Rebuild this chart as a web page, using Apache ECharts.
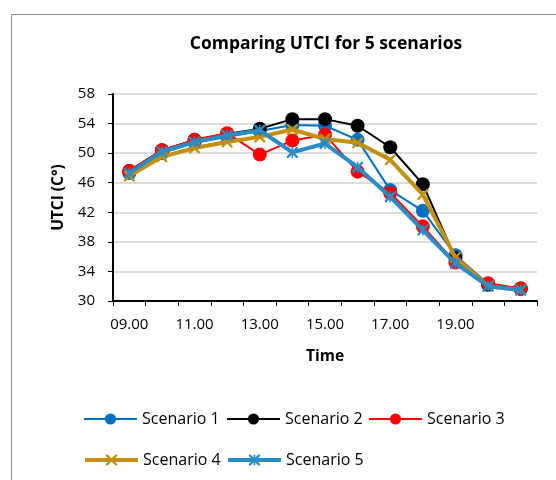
<!DOCTYPE html>
<html>
<head>
<meta charset="utf-8">
<script src="https://cdn.jsdelivr.net/npm/echarts@6/dist/echarts.min.js"></script>
<style>html,body{margin:0;padding:0;background:#fff;}#c{width:556px;height:480px;}</style>
</head>
<body>
<div id="c"></div>
<script>
const categories = ['09.00','10.00','11.00','12.00','13.00','14.00','15.00','16.00','17.00','18.00','19.00','20.00','21.00'];
const seriesNames = ['Scenario 1','Scenario 2','Scenario 3','Scenario 4','Scenario 5'];
const scenario1 = [47.3, 50.0, 51.4, 52.2, 53.0, 53.8, 53.7, 51.8, 45.0, 42.2, 36.2, 32.3, 31.6];
const scenario2 = [47.6, 50.4, 51.8, 52.6, 53.3, 54.6, 54.6, 53.7, 50.8, 45.8, 35.8, 32.2, 31.7];
const scenario3 = [47.6, 50.4, 51.8, 52.7, 49.8, 51.7, 52.5, 47.5, 44.6, 40.1, 35.2, 32.4, 31.7];
const scenario4 = [46.9, 49.5, 50.7, 51.5, 52.2, 53.2, 51.9, 51.4, 49.1, 44.4, 35.9, 32.0, 31.5];
const scenario5 = [47.3, 50.2, 51.5, 52.4, 53.1, 50.1, 51.3, 48.1, 44.1, 39.6, 35.1, 32.0, 31.5];
const yTicks = [30, 34, 38, 42, 46, 50, 54, 58];

const FONT = 'Open Sans';
const xPath = 'path://M0,0 L1.5,0 L10,8.5 L10,10 L8.5,10 L0,1.5 Z M10,0 L10,1.5 L1.5,10 L0,10 L0,8.5 L8.5,0 Z';
const starPath = 'path://M0,0 L1.5,0 L10,8.5 L10,10 L8.5,10 L0,1.5 Z M10,0 L10,1.5 L1.5,10 L0,10 L0,8.5 L8.5,0 Z M4.3,0 L5.7,0 L5.7,10 L4.3,10 Z';

const colors = ['#0070C0', '#000000', '#FF0000', '#C38F0E', '#2A8CC4'];
const data = [scenario1, scenario2, scenario3, scenario4, scenario5];
const symbols = ['circle','circle','circle', xPath, starPath];
const symSizes = [14, 14, 14, 11, 11];
const widths = [2, 2, 2, 4, 4];

const series = seriesNames.map((n, i) => ({
  name: n,
  type: 'line',
  data: data[i],
  symbol: symbols[i],
  symbolSize: symSizes[i],
  showAllSymbol: true,
  lineStyle: { color: colors[i], width: widths[i] },
  itemStyle: { color: colors[i], borderWidth: 0 },
  emphasis: { disabled: true },
  animation: false,
  z: 2 + i
}));

const legendPos = [[83, 411], [226, 411], [368, 411], [83, 452], [226, 452]];
const legends = seriesNames.map((n, i) => ({
  data: [n],
  left: legendPos[i][0],
  top: legendPos[i][1],
  padding: 0,
  itemWidth: 53,
  itemHeight: 14,
  itemGap: 0,
  lineStyle: { width: widths[i] },
  textStyle: { fontFamily: FONT, fontSize: 16, color: '#000' },
  selectedMode: false
}));

const chart = echarts.init(document.getElementById('c'), null, { renderer: 'canvas' });
chart.setOption({
  animation: false,
  backgroundColor: '#fff',
  title: {
    text: 'Comparing UTCI for 5 scenarios',
    left: 326, top: 35, textAlign: 'center', padding: 0,
    textStyle: { fontFamily: FONT, fontSize: 17.5, fontWeight: 'bold', color: '#000' }
  },
  graphic: [{
    type: 'rect', shape: { x: 11.5, y: 14.5, width: 700, height: 700 },
    style: { fill: 'none', stroke: '#8c8c8c', lineWidth: 1 }, silent: true, z: -10
  }],
  legend: legends,
  grid: { left: 113, right: 19, top: 94, bottom: 179, containLabel: false },
  xAxis: {
    type: 'category',
    data: categories,
    boundaryGap: true,
    name: 'Time',
    nameLocation: 'middle',
    nameGap: 48,
    nameTextStyle: { fontFamily: FONT, fontSize: 15.5, fontWeight: 'bold', color: '#000' },
    axisLine: { lineStyle: { color: '#000', width: 2 } },
    axisTick: { show: true, interval: 0, length: 5, lineStyle: { color: '#000', width: 1 } },
    axisLabel: {
      interval: (idx) => idx % 2 === 0 && idx < 12,
      fontFamily: FONT, fontSize: 15, color: '#000', margin: 16
    },
    splitLine: { show: false }
  },
  yAxis: {
    type: 'value',
    min: 30, max: 58, interval: 4,
    name: 'UTCI (C°)',
    nameLocation: 'middle',
    nameGap: 46,
    nameRotate: 90,
    nameTextStyle: { fontFamily: FONT, fontSize: 15.5, fontWeight: 'bold', color: '#000' },
    axisLine: { show: true, lineStyle: { color: '#000', width: 2 } },
    axisTick: { show: true, length: 5, lineStyle: { color: '#000', width: 1 } },
    axisLabel: { fontFamily: FONT, fontSize: 15, color: '#000', margin: 18,
      formatter: (v) => yTicks.includes(v) ? String(v) : '' },
    splitLine: { lineStyle: { color: '#D0D0D0', width: 1.5 } }
  },
  series: series
});
</script>
</body>
</html>
